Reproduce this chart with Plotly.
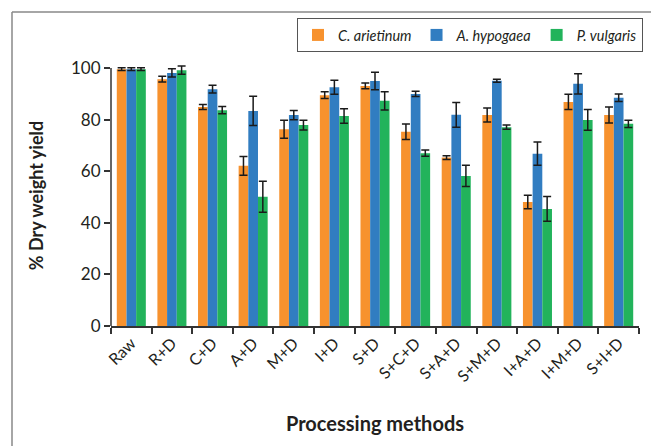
import plotly.graph_objects as go

categories = ["Raw", "R+D", "C+D", "A+D", "M+D", "I+D", "S+D", "S+C+D", "S+A+D",
              "S+M+D", "I+A+D", "I+M+D", "S+I+D"]
series_names = ["C. arietinum", "A. hypogaea", "P. vulgaris"]
c_arietinum = [99.6, 95.7, 84.9, 62.1, 76.3, 89.5, 93.1, 75.3, 65.3, 81.8, 48.1, 86.9, 81.8]
c_arietinum_err = [0.5, 1.1, 1.0, 3.6, 3.5, 1.3, 1.1, 3.0, 0.7, 2.7, 2.6, 3.0, 3.1]
a_hypogaea = [99.6, 98.1, 91.8, 83.4, 81.8, 92.6, 95.0, 90.0, 81.9, 95.1, 66.8, 93.9, 88.5]
a_hypogaea_err = [0.5, 1.6, 1.5, 5.7, 1.8, 2.7, 3.4, 1.0, 4.8, 0.6, 4.5, 3.9, 1.5]
p_vulgaris = [99.6, 99.2, 83.7, 50.1, 77.9, 81.4, 87.3, 67.0, 58.2, 77.1, 45.4, 79.9, 78.4]
p_vulgaris_err = [0.5, 1.6, 1.4, 6.0, 1.9, 2.8, 3.5, 1.2, 4.1, 0.8, 4.8, 4.0, 1.4]
colors = ["#F7922E", "#317DC1", "#22B35B"]
y_ticks = [0, 20, 40, 60, 80, 100]

values = [c_arietinum, a_hypogaea, p_vulgaris]
errors = [c_arietinum_err, a_hypogaea_err, p_vulgaris_err]

FONT = "Lato, 'Open Sans', sans-serif"

fig = go.Figure()
for name, vals, errs, col in zip(series_names, values, errors, colors):
    fig.add_trace(go.Bar(
        x=categories, y=vals, name="<i>" + name + "</i>",
        marker=dict(color=col, line=dict(width=0)),
        error_y=dict(type="data", array=errs, visible=True,
                     color="#1a1a1a", thickness=1.5, width=4),
    ))

plot_top, plot_bottom, left, right_m = 65, 326, 111, 12
plot_h = plot_bottom - plot_top
plot_w = 651 - left - right_m

def px_x(p):
    return (p - left) / plot_w

def px_y(p):
    return (plot_bottom - p) / plot_h

fig.update_layout(
    width=651, height=446, autosize=False,
    margin=dict(l=left, r=right_m, t=plot_top, b=446 - plot_bottom, autoexpand=False),
    paper_bgcolor="white", plot_bgcolor="white",
    barmode="group", bargap=0.285, bargroupgap=0,
    font=dict(family=FONT, color="#231f20"),
    showlegend=True,
    legend=dict(orientation="h", x=px_x(643), y=px_y(18), xanchor="right", yanchor="top",
                bordercolor="#555555", borderwidth=1, bgcolor="white",
                font=dict(size=14.5, family=FONT, color="#231f20"),
                itemwidth=30, tracegroupgap=0),
    xaxis=dict(
        type="category", showline=True, linecolor="#333333", linewidth=1.5,
        ticks="outside", tickson="boundaries", ticklen=6, tickcolor="#333333", tickwidth=1.5,
        tickangle=-45, tickfont=dict(size=16, family=FONT, color="#231f20"),
        title=dict(text="<b>Processing methods</b>", font=dict(size=20, family=FONT, color="#231f20"),
                   standoff=33),
        showgrid=False,
    ),
    yaxis=dict(
        range=[0, 101.2], tickvals=y_ticks, showline=False,
        ticks="outside", ticklen=6, tickcolor="#333333", tickwidth=1.5,
        tickfont=dict(size=17, family=FONT, color="#231f20"),
        title=dict(text="<b>% Dry weight yield</b>", font=dict(size=18, family=FONT, color="#231f20"),
                   standoff=22),
        showgrid=False, zeroline=False,
    ),
    shapes=[
        dict(type="line", xref="x domain", yref="y", x0=0, x1=0, y0=0, y1=100,
             line=dict(color="#333333", width=1.5)),
        dict(type="line", xref="paper", yref="paper", x0=px_x(12), x1=px_x(651),
             y0=px_y(12), y1=px_y(12), line=dict(color="#888888", width=1.5)),
        dict(type="line", xref="paper", yref="paper", x0=px_x(12), x1=px_x(12),
             y0=px_y(12), y1=px_y(446), line=dict(color="#888888", width=1.5)),
    ],
)

post = ("document.body.style.margin='0';document.body.style.padding='0';"
        "document.body.style.overflow='hidden';"
        "var gd=document.getElementById('{plot_id}');"
        "Plotly.relayout(gd,{width:651,height:446});")

fig.write_html("out.html", post_script=post,
               config={"responsive": False, "displayModeBar": False})
